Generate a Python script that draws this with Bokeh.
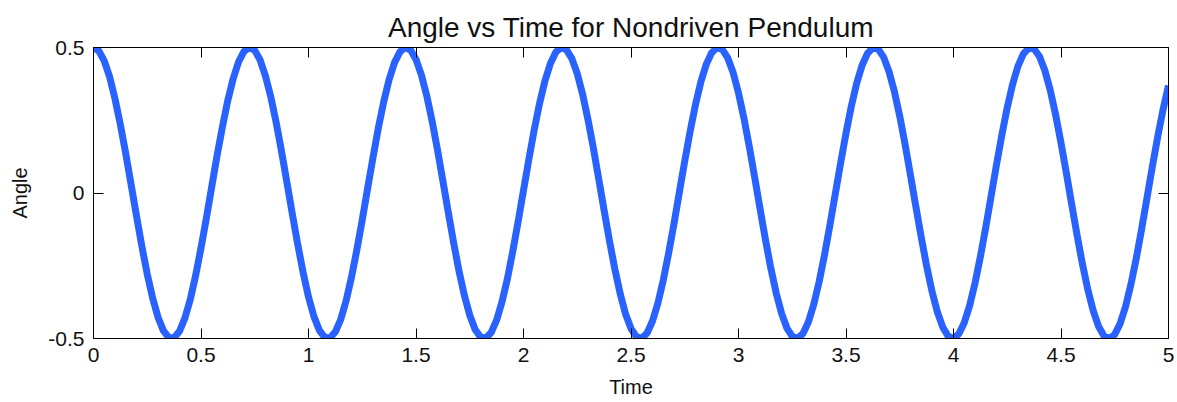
from bokeh.plotting import figure
from bokeh.models import LinearAxis, FixedTicker, Range1d
from bokeh.embed import file_html
from bokeh.resources import INLINE

# Simulated pendulum angle (rad) sampled every 0.025 s over 0..5 s
dt = 0.025
angle = [
    0.500, 0.488, 0.454, 0.399, 0.324, 0.235, 0.135, 0.029, -0.079, -0.183,
    -0.279, -0.361, -0.427, -0.473, -0.497, -0.497, -0.475, -0.430, -0.366, -0.284,
    -0.189, -0.086, 0.022, 0.129, 0.229, 0.319, 0.394, 0.451, 0.487, 0.500,
    0.490, 0.457, 0.402, 0.329, 0.241, 0.141, 0.035, -0.073, -0.177, -0.273,
    -0.357, -0.424, -0.471, -0.496, -0.498, -0.477, -0.434, -0.370, -0.289, -0.195,
    -0.092, 0.016, 0.122, 0.224, 0.314, 0.390, 0.448, 0.485, 0.500, 0.491,
    0.459, 0.406, 0.334, 0.247, 0.148, 0.042, -0.066, -0.171, -0.268, -0.352,
    -0.420, -0.469, -0.495, -0.499, -0.479, -0.437, -0.374, -0.295, -0.201, -0.098,
    0.009, 0.116, 0.218, 0.309, 0.386, 0.445, 0.484, 0.500, 0.492, 0.462,
    0.410, 0.339, 0.252, 0.154, 0.048, -0.060, -0.165, -0.262, -0.347, -0.417,
    -0.466, -0.494, -0.499, -0.481, -0.440, -0.379, -0.300, -0.207, -0.105, 0.003,
    0.110, 0.212, 0.304, 0.382, 0.442, 0.482, 0.499, 0.493, 0.464, 0.414,
    0.344, 0.258, 0.160, 0.055, -0.053, -0.159, -0.257, -0.343, -0.413, -0.464,
    -0.493, -0.499, -0.483, -0.443, -0.383, -0.305, -0.213, -0.111, -0.004, 0.103,
    0.206, 0.299, 0.378, 0.439, 0.480, 0.499, 0.494, 0.467, 0.417, 0.349,
    0.264, 0.166, 0.061, -0.047, -0.152, -0.251, -0.338, -0.409, -0.461, -0.492,
    -0.500, -0.484, -0.446, -0.387, -0.310, -0.219, -0.118, -0.011, 0.097, 0.200,
    0.294, 0.374, 0.436, 0.478, 0.498, 0.495, 0.469, 0.421, 0.353, 0.269,
    0.172, 0.068, -0.040, -0.146, -0.245, -0.333, -0.405, -0.459, -0.491, -0.500,
    -0.486, -0.449, -0.391, -0.315, -0.225, -0.124, -0.017, 0.091, 0.194, 0.288,
    0.369,
]
time = [round(i * dt, 3) for i in range(len(angle))]

x_ticks = [0, 0.5, 1, 1.5, 2, 2.5, 3, 3.5, 4, 4.5, 5]
x_tick_labels = ["0", "0.5", "1", "1.5", "2", "2.5", "3", "3.5", "4", "4.5", "5"]
y_ticks = [-0.5, 0, 0.5]
y_tick_labels = ["-0.5", "0", "0.5"]

FONT = "Liberation Sans"

p = figure(
    width=1177, height=402,
    x_range=Range1d(0, 5), y_range=Range1d(-0.5, 0.5),
    output_backend="svg", toolbar_location=None,
    min_border_left=93, min_border_right=9, min_border_top=47, min_border_bottom=64,
    title="Angle vs Time for Nondriven Pendulum",
)
p.title.align = "center"
p.title.text_font = FONT
p.title.text_font_size = "28px"
p.title.text_font_style = "normal"
p.title.text_color = "#111111"

p.grid.visible = False
p.background_fill_color = "white"
p.border_fill_color = "white"
p.outline_line_color = "black"
p.outline_line_width = 1

p.line(time, angle, line_color="#2962ff", line_width=7, line_join="round")


def style_axis(ax, ticks, labels=None):
    ax.ticker = FixedTicker(ticks=ticks)
    ax.minor_tick_line_color = None
    ax.major_tick_in = 10
    ax.major_tick_out = 0
    ax.major_tick_line_color = "black"
    ax.axis_line_color = "black"
    ax.major_label_text_font = FONT
    ax.major_label_text_color = "#111111"
    ax.major_label_text_font_size = "21px"
    ax.axis_label_text_font = FONT
    ax.axis_label_text_font_style = "normal"
    ax.axis_label_text_color = "#111111"
    if labels is not None:
        ax.major_label_overrides = {t: l for t, l in zip(ticks, labels)}
    else:
        # tick marks only on the box's top and right sides
        ax.major_label_text_font_size = "0px"
        ax.major_label_text_alpha = 0
        ax.major_label_standoff = 0
        ax.major_label_overrides = {t: "" for t in ticks}


xa = p.xaxis[0]
style_axis(xa, x_ticks, x_tick_labels)
xa.axis_label = "Time"
xa.axis_label_text_font_size = "20px"
xa.major_label_standoff = 9
xa.axis_label_standoff = 11

ya = p.yaxis[0]
style_axis(ya, y_ticks, y_tick_labels)
ya.axis_label = "Angle"
ya.axis_label_text_font_size = "20px"
ya.major_label_standoff = 9
ya.axis_label_standoff = 14

top = LinearAxis()
style_axis(top, x_ticks)
p.add_layout(top, "above")

right = LinearAxis()
style_axis(right, y_ticks)
p.add_layout(right, "right")

open("out.html", "w").write(file_html(p, INLINE))
